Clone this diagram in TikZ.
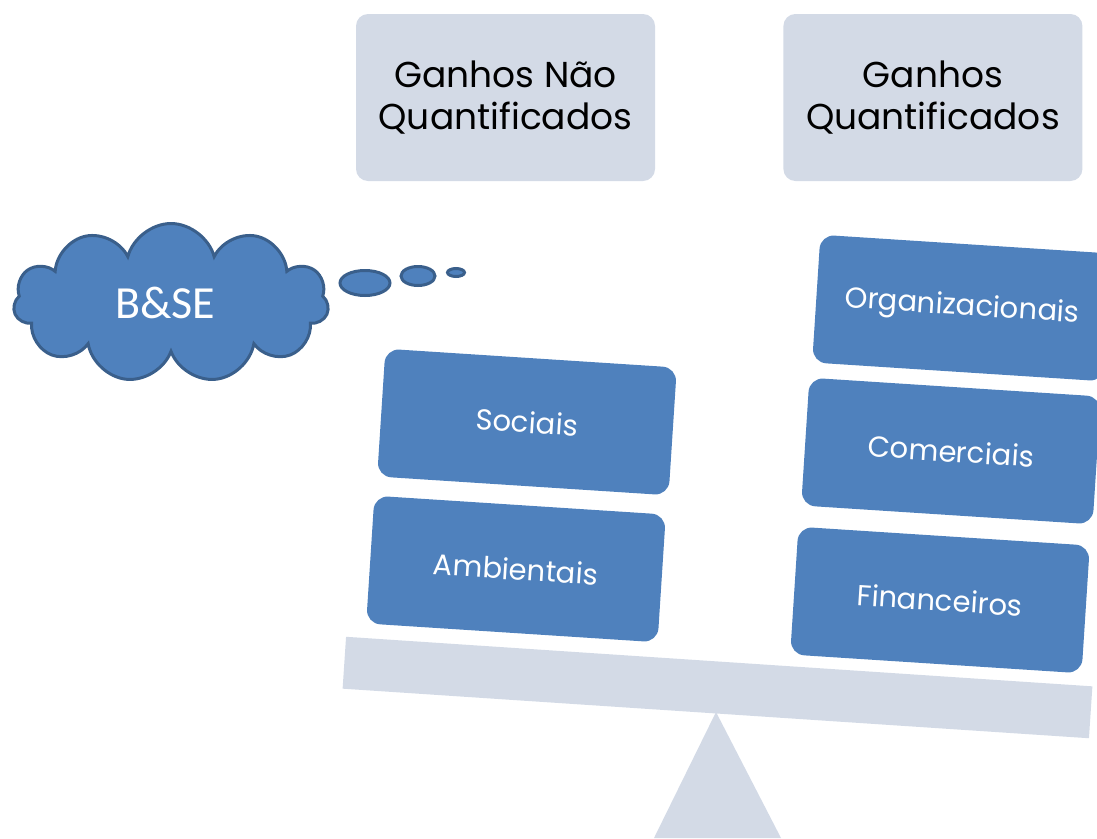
\documentclass[tikz,border=0pt]{standalone}
\usepackage{fontspec}
\setmainfont{Poppins}
\newfontfamily\cloudfont{Carlito}
\usetikzlibrary{positioning,shapes.geometric,shapes.symbols}
\definecolor{boxblue}{HTML}{4F81BD}
\definecolor{cloudline}{HTML}{3A5F8B}
\definecolor{palegray}{HTML}{D3DAE6}

\begin{document}
\begin{tikzpicture}[x=1pt,y=-1pt,topbox/.style={fill=palegray,rounded corners=12pt,align=center,minimum width=299pt,minimum height=167pt,inner sep=0pt,font=\fontsize{36}{42}\selectfont},gainbox/.style={fill=boxblue,rounded corners=14pt,text=white,minimum width=292pt,minimum height=128pt,inner sep=0pt,rotate=-3.7,font=\fontsize{29}{34}\selectfont},puff/.style={ellipse,fill=boxblue,draw=cloudline,line width=3pt,inner sep=0pt}]
\useasboundingbox (0,0) rectangle (1097,838);
% os dois pratos da balanca
\node[topbox] (naoquant) at (505.5,97.5) {Ganhos Não\\Quantificados};
\node[topbox,right=128pt of naoquant] (quant) {Ganhos\\Quantificados};
% pe e travessa
\fill[palegray] (716,712) -- (781,838) -- (654,838) -- cycle;
\node[fill=palegray,minimum width=748pt,minimum height=52pt,inner sep=0pt,rotate=-3.8] (beam) at (717.5,687.5) {};
% lado esquerdo
\node[gainbox] (sociais) at (527,422) {Sociais};
\node[gainbox] (ambient) at (516,569) {Ambientais};
% lado direito
\node[gainbox] (organiz) at (962,308) {Organizacionais};
\node[gainbox] (comerc) at (951,451) {Comerciais};
\node[gainbox] (financ) at (940,600) {Financeiros};
% nuvem
\node[cloud,cloud puffs=11,aspect=2,fill=boxblue,draw=cloudline,line width=3pt,minimum width=315pt,minimum height=159pt,inner sep=0pt,text=white,font=\cloudfont\fontsize{46}{50}\selectfont] (bse) at (171,303) {\hspace*{-12pt}B\&SE};
\node[puff,minimum width=50pt,minimum height=25pt] (bub1) at (365,283) {};
\node[puff,minimum width=34pt,minimum height=19pt] (bub2) at (418,276) {};
\node[puff,minimum width=17pt,minimum height=8pt] (bub3) at (456,272.5) {};
\end{tikzpicture}
\end{document}
